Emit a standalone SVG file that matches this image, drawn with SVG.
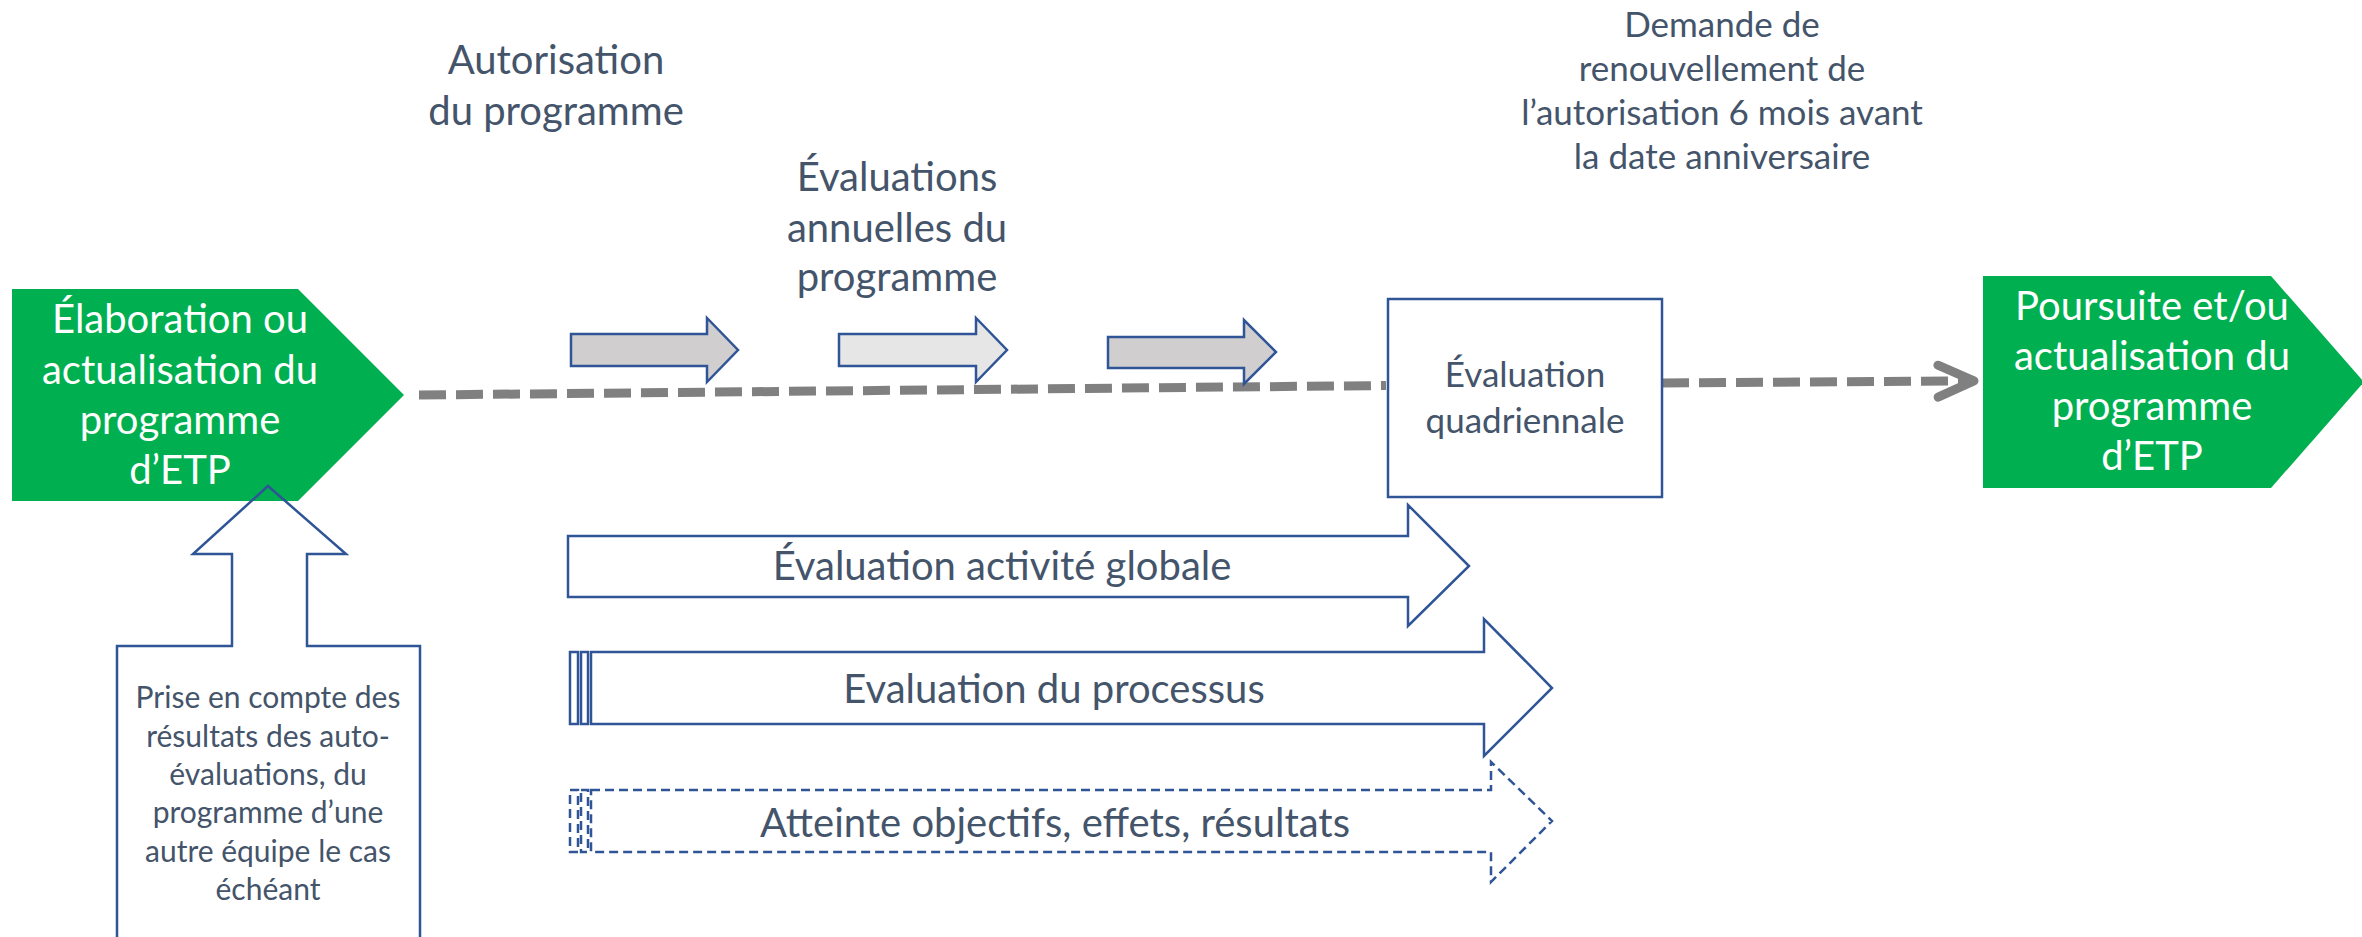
<svg xmlns="http://www.w3.org/2000/svg" width="2362" height="937" viewBox="0 0 2362 937">
<style>
text{font-family:Lato,"Liberation Sans",sans-serif;text-anchor:middle}
.lbl{fill:#44546A}
.wt{fill:#FFFFFF}
.green{fill:#00B050;stroke:none}
.blue{stroke:#2F5597;stroke-width:2.5;stroke-linejoin:miter}
.dash{fill:none;stroke:#808080;stroke-width:9;stroke-dasharray:27 10}
</style>
<defs>
<marker id="openArrow" markerUnits="userSpaceOnUse" markerWidth="60" markerHeight="60" refX="31" refY="22" orient="auto" overflow="visible">
<path d="M4,6 L40,22 L4,38" fill="none" stroke="#808080" stroke-width="9" stroke-linecap="round" stroke-linejoin="round"/>
</marker>
</defs>

<g id="labels-top">
<text class="lbl" font-size="40" x="556"><tspan x="556" y="74">Autorisation</tspan><tspan x="556" y="125">du programme</tspan></text>
<text class="lbl" font-size="40" x="897"><tspan x="897" y="191">Évaluations</tspan><tspan x="897" y="242">annuelles du</tspan><tspan x="897" y="291">programme</tspan></text>
<text class="lbl" font-size="35" x="1722"><tspan x="1722" y="37">Demande de</tspan><tspan x="1722" y="81">renouvellement de</tspan><tspan x="1722" y="125">l’autorisation 6 mois avant</tspan><tspan x="1722" y="169">la date anniversaire</tspan></text>
</g>

<g id="node-elaboration">
<polygon class="green" points="12,289 298,289 404,395 298,501 12,501"/>
<text class="wt" font-size="40"><tspan x="180" y="333">Élaboration ou</tspan><tspan x="180" y="384">actualisation du</tspan><tspan x="180" y="434">programme</tspan><tspan x="180" y="484">d’ETP</tspan></text>
</g>

<g id="node-poursuite">
<polygon class="green" points="1983,276 2271,276 2364,382 2271,488 1983,488"/>
<text class="wt" font-size="40"><tspan x="2152" y="320">Poursuite et/ou</tspan><tspan x="2152" y="370">actualisation du</tspan><tspan x="2152" y="420">programme</tspan><tspan x="2152" y="470">d’ETP</tspan></text>
</g>

<g id="connectors">
<line class="dash" x1="419" y1="395" x2="1386" y2="385.5"/>
<line class="dash" x1="1662" y1="383" x2="1965" y2="381" marker-end="url(#openArrow)"/>
</g>

<g id="node-quadriennale">
<rect class="blue" x="1388" y="299" width="274" height="198" fill="#FFFFFF"/>
<text class="lbl" font-size="35"><tspan x="1525" y="387">Évaluation</tspan><tspan x="1525" y="433">quadriennale</tspan></text>
</g>

<g id="annual-arrows">
<polygon class="blue" fill="#D0CECE" points="571,334 707,334 707,318 738,350 707,382 707,366 571,366"/>
<polygon class="blue" fill="#E7E6E6" points="839,334 976,334 976,318 1007,350 976,382 976,366 839,366"/>
<polygon class="blue" fill="#D0CECE" points="1108,337 1244,337 1244,320 1276,352 1244,384 1244,368 1108,368"/>
</g>

<g id="node-prise-en-compte">
<path class="blue" fill="none" d="M117,945 L117,646 L232,646 L232,554 L193,554 L268,486 L346,554 L307,554 L307,646 L420,646 L420,945"/>
<text class="lbl" font-size="30"><tspan x="268" y="708">Prise en compte des</tspan><tspan x="268" y="747">résultats des auto-</tspan><tspan x="268" y="785">évaluations, du</tspan><tspan x="268" y="823">programme d’une</tspan><tspan x="268" y="862">autre équipe le cas</tspan><tspan x="268" y="900">échéant</tspan></text>
</g>

<g id="node-activite-globale">
<polygon class="blue" fill="#FFFFFF" points="568,536 1408,536 1408,505 1469,566 1408,626 1408,597 568,597"/>
<text class="lbl" font-size="40" x="1002" y="580">Évaluation activité globale</text>
</g>

<g id="node-processus">
<polygon class="blue" fill="#FFFFFF" points="591,652 1484,652 1484,619 1552,688 1484,756 1484,724 591,724"/>
<rect class="blue" fill="#FFFFFF" x="570" y="652" width="8" height="72"/>
<rect class="blue" fill="#FFFFFF" x="581" y="652" width="7" height="72"/>
<text class="lbl" font-size="40" x="1054" y="703">Evaluation du processus</text>
</g>

<g id="node-atteinte">
<polygon class="blue" fill="none" stroke-dasharray="9 5" points="591,790 1491,790 1491,762 1552,821 1491,882 1491,852 591,852"/>
<rect class="blue" fill="none" stroke-dasharray="9 5" x="570" y="790" width="8" height="62"/>
<rect class="blue" fill="none" stroke-dasharray="9 5" x="581" y="790" width="7" height="62"/>
<text class="lbl" font-size="40" x="1055" y="837">Atteinte objectifs, effets, résultats</text>
</g>
</svg>
